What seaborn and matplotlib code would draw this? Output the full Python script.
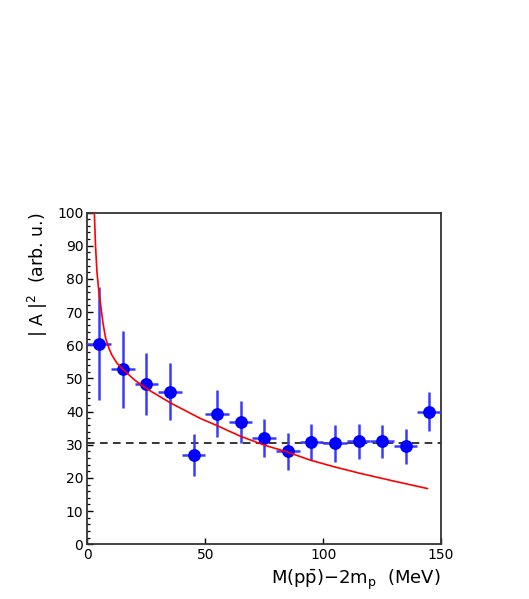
"""
|A|^2 vs M(ppbar)-2m_p  (datos leídos de la figura)
"""
import numpy as np
import pandas as pd
import matplotlib
matplotlib.use('Agg')
import matplotlib.pyplot as plt
from matplotlib.ticker import MultipleLocator
import seaborn as sns

# Datos: centros de bin, valores y errores
mass_centers = [5, 15, 25, 35, 45, 55, 65, 75, 85, 95, 105, 115, 125, 135, 145]
amp_values = [60.5, 52.7, 48.4, 46.0, 26.9, 39.4, 36.8, 32.0, 28.0, 30.9, 30.5, 31.0, 31.0, 29.5, 40.0]
amp_errors = [17.0, 11.7, 9.4, 8.6, 6.4, 7.2, 6.4, 5.8, 5.5, 5.4, 5.6, 5.3, 5.0, 5.2, 5.9]
bin_halfwidth = [5] * len(mass_centers)

# Curva de ajuste (leída punto a punto)
fit_x = [2.9, 3.4, 4.0, 4.7, 5.6, 6.6, 7.7, 9.0, 10.3, 12.5, 15.1, 20.0, 26.5,
         35.0, 47.7, 55.2, 64.8, 75.0, 84.9, 94.4, 105.0, 115.6, 129.7, 144.3]
fit_y = [100.0, 90.0, 82.2, 77.0, 72.1, 66.5, 62.1, 59.3, 57.1, 54.6, 52.7, 49.5, 46.3,
         42.7, 38.0, 35.7, 32.6, 29.9, 27.8, 25.4, 23.3, 21.4, 19.1, 16.8]

# Nivel constante (línea discontinua)
flat_level = 30.6

sns.set_style('ticks')
plt.rcParams['font.family'] = ['DejaVu Sans']
plt.rcParams['mathtext.fontset'] = 'dejavusans'
plt.rcParams['text.color'] = 'black'
plt.rcParams['axes.labelcolor'] = 'black'
plt.rcParams['xtick.color'] = 'black'
plt.rcParams['ytick.color'] = 'black'

fig = plt.figure(figsize=(5.29, 5.99), dpi=100)
ax = fig.add_axes([0.1654, 0.0913, 0.6683, 0.5539])

df = pd.DataFrame({'mass': mass_centers, 'amp': amp_values,
                   'err': amp_errors, 'xerr': bin_halfwidth})
fit_df = pd.DataFrame({'mass': fit_x, 'amp': fit_y})

# Línea horizontal discontinua
ax.plot([0, 150], [flat_level, flat_level], color='black', linestyle=(0, (5, 3.5)),
        linewidth=1.1, zorder=2)

# Barras de error
ax.errorbar(df['mass'], df['amp'], yerr=df['err'], xerr=df['xerr'], fmt='none',
            ecolor='#3a3aff', elinewidth=1.8, capsize=0, zorder=3)

# Puntos
sns.scatterplot(data=df, x='mass', y='amp', ax=ax, color='blue', s=85,
                edgecolor='blue', linewidth=0, zorder=4, legend=False)

# Curva de ajuste
sns.lineplot(data=fit_df, x='mass', y='amp', ax=ax, color='red', linewidth=1.2,
             sort=False, estimator=None, zorder=5)

ax.set_xlim(0, 150)
ax.set_ylim(0, 100)
ax.xaxis.set_major_locator(MultipleLocator(50))
ax.yaxis.set_major_locator(MultipleLocator(10))
ax.yaxis.set_minor_locator(MultipleLocator(2))
ax.tick_params(axis='both', which='both', direction='in', labelsize=10,
               color='black', labelcolor='black')
ax.tick_params(axis='y', which='major', length=4, width=1.0, pad=3)
ax.tick_params(axis='y', which='minor', length=2.3, width=0.9)
ax.tick_params(axis='x', which='major', length=4, width=1.0, pad=3)

for sp in ax.spines.values():
    sp.set_visible(True)
    sp.set_linewidth(1.3)
    sp.set_color('#333333')

ax.set_xlabel(r'M(p$\bar{\mathrm{p}}$)$-$2m$_\mathrm{p}$  (MeV)', fontsize=13,
              ha='right', x=1.0, labelpad=4)
ax.set_ylabel(r'| A |$^2$  (arb. u.)', fontsize=12.5, ha='right', y=1.0, labelpad=5)

fig.savefig('out.png', dpi=100)
plt.close(fig)
